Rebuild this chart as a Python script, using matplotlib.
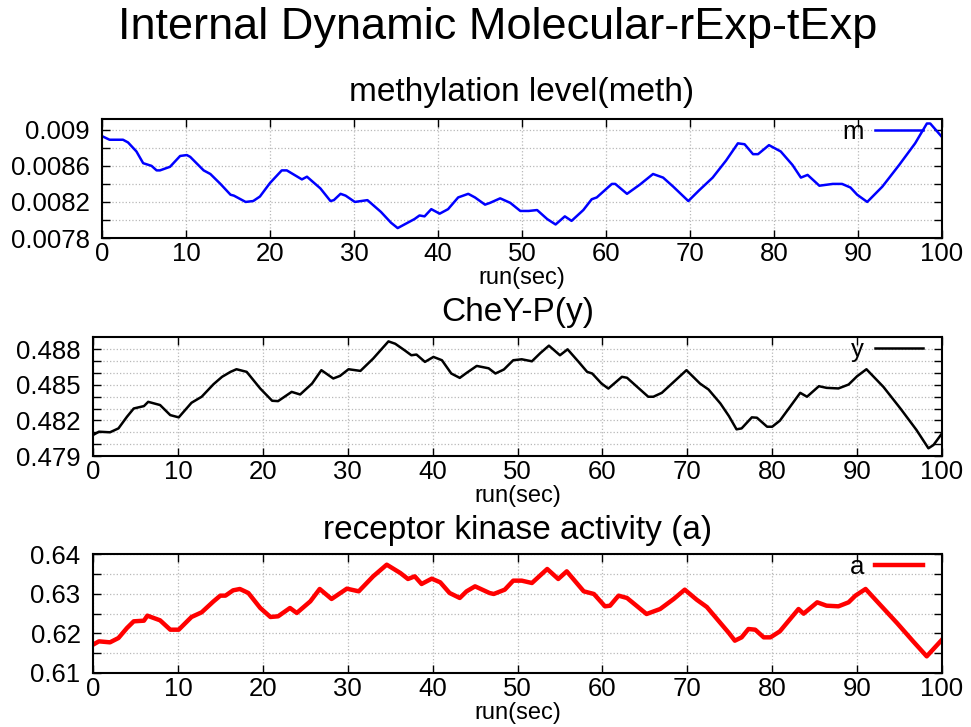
import matplotlib
matplotlib.use("Agg")
import matplotlib.pyplot as plt

plt.rcParams['font.family'] = ['Liberation Sans', 'DejaVu Sans']

# methylation level (m)
meth_t = [0, 0.9, 2.5, 3.1, 4.1, 4.9, 5.9, 6.5, 6.9, 8.1, 9.3, 10.1, 10.5, 12.1, 12.9, 14.1,
          15.3, 15.7, 17.1, 18.0, 18.8, 20.0, 21.4, 22.0, 23.8, 24.4, 26.0, 27.2, 27.6, 28.4,
          29.0, 30.1, 31.6, 33.2, 34.4, 35.2, 36.0, 37.2, 37.8, 38.4, 39.2, 40.2, 41.2, 42.4,
          43.6, 44.4, 45.6, 46.2, 47.4, 48.6, 49.8, 50.8, 51.8, 53.0, 54.0, 55.1, 55.9, 57.3,
          58.3, 58.9, 60.7, 61.1, 62.5, 64.0, 65.6, 66.8, 68.0, 69.8, 71.1, 72.7, 74.3, 75.7,
          76.5, 77.5, 78.1, 79.4, 80.8, 82.2, 83.2, 84.0, 85.4, 87.0, 88.1, 89.1, 89.9, 91.1,
          92.9, 94.9, 96.8, 98.2, 98.6, 100.0]
meth_v = [0.00893, 0.00889, 0.00889, 0.00886, 0.00876, 0.00863, 0.00860, 0.00855, 0.00855,
          0.00859, 0.00871, 0.00872, 0.00870, 0.00855, 0.00851, 0.00840, 0.00828, 0.00827,
          0.00820, 0.00821, 0.00826, 0.00841, 0.00855, 0.00855, 0.00845, 0.00848, 0.00835,
          0.00821, 0.00822, 0.00829, 0.00827, 0.00820, 0.00822, 0.00809, 0.00797, 0.00791,
          0.00795, 0.00801, 0.00805, 0.00804, 0.00812, 0.00807, 0.00812, 0.00825, 0.00829,
          0.00825, 0.00817, 0.00819, 0.00824, 0.00819, 0.00810, 0.00810, 0.00811, 0.00801,
          0.00795, 0.00804, 0.00799, 0.00811, 0.00823, 0.00825, 0.00840, 0.00840, 0.00829,
          0.00839, 0.00851, 0.00847, 0.00837, 0.00821, 0.00833, 0.00847, 0.00866, 0.00885,
          0.00884, 0.00873, 0.00873, 0.00883, 0.00876, 0.00861, 0.00847, 0.00850, 0.00838,
          0.00840, 0.00840, 0.00836, 0.00828, 0.00820, 0.00837, 0.00861, 0.00885, 0.00907,
          0.00907, 0.00892]

# CheY-P (y)
chey_t = [0, 0.7, 2.0, 3.0, 4.0, 4.8, 6.0, 6.5, 7.9, 9.1, 10.1, 11.6, 12.8, 14.2, 15.2, 16.2,
          16.9, 18.1, 19.7, 21.1, 21.8, 23.4, 24.4, 25.8, 26.9, 28.3, 29.1, 30.1, 31.5, 33.0,
          34.8, 35.6, 36.7, 37.5, 38.1, 39.1, 40.1, 41.1, 42.2, 43.2, 44.0, 45.2, 46.6, 47.4,
          48.4, 49.5, 50.5, 51.7, 52.7, 53.7, 55.0, 55.9, 57.2, 58.2, 58.8, 59.9, 60.7, 62.3,
          62.9, 64.1, 65.4, 66.0, 67.0, 68.4, 69.9, 71.5, 72.5, 73.9, 74.9, 75.8, 76.4, 77.6,
          78.2, 79.4, 80.0, 80.9, 82.1, 83.3, 84.1, 85.5, 86.4, 87.8, 89.0, 90.0, 91.1, 93.1,
          95.1, 97.0, 98.4, 99.0, 100.0]
chey_v = [0.48077, 0.48105, 0.48100, 0.48133, 0.48231, 0.48301, 0.48321, 0.48357, 0.48330,
          0.48245, 0.48226, 0.48349, 0.48400, 0.48506, 0.48568, 0.48610, 0.48632, 0.48610,
          0.48469, 0.48366, 0.48363, 0.48441, 0.48419, 0.48511, 0.48624, 0.48554, 0.48576,
          0.48632, 0.48618, 0.48722, 0.48867, 0.48847, 0.48792, 0.48750, 0.48756, 0.48694,
          0.48736, 0.48708, 0.48596, 0.48559, 0.48601, 0.48660, 0.48640, 0.48596, 0.48630,
          0.48708, 0.48716, 0.48699, 0.48769, 0.48831, 0.48750, 0.48800, 0.48694, 0.48610,
          0.48596, 0.48511, 0.48469, 0.48568, 0.48560, 0.48483, 0.48400, 0.48400, 0.48433,
          0.48525, 0.48624, 0.48511, 0.48461, 0.48343, 0.48237, 0.48125, 0.48133, 0.48226,
          0.48223, 0.48147, 0.48147, 0.48198, 0.48315, 0.48433, 0.48400, 0.48489, 0.48475,
          0.48470, 0.48503, 0.48573, 0.48632, 0.48483, 0.48301, 0.48119, 0.47965, 0.47993,
          0.48091]

# receptor kinase activity (a)
act_t = [0, 0.7, 2.0, 3.0, 4.0, 4.8, 6.0, 6.4, 7.9, 9.1, 10.1, 11.6, 12.8, 14.2, 15.0, 15.6,
         16.5, 17.3, 18.3, 19.7, 20.9, 21.8, 23.2, 24.0, 25.6, 26.7, 28.1, 29.9, 31.3, 33.0,
         34.6, 36.2, 37.1, 37.9, 38.7, 39.9, 40.9, 42.0, 43.2, 44.0, 45.0, 46.7, 47.2, 48.5,
         49.5, 50.5, 51.7, 53.5, 54.8, 55.8, 57.8, 59.0, 60.3, 60.9, 61.9, 62.9, 64.1, 65.2,
         66.8, 68.4, 69.7, 71.1, 72.3, 73.9, 74.9, 75.6, 76.4, 77.2, 78.0, 79.0, 79.8, 80.9,
         83.1, 83.7, 85.3, 86.4, 87.8, 89.0, 89.8, 91.0, 92.7, 94.7, 96.6, 98.2, 100.0]
act_v = [0.61714, 0.61798, 0.61773, 0.61882, 0.62134, 0.62303, 0.62319, 0.62445, 0.62328,
         0.62092, 0.62092, 0.62412, 0.62530, 0.62807, 0.62950, 0.62950, 0.63084, 0.63118,
         0.63017, 0.62639, 0.62412, 0.62429, 0.62639, 0.62513, 0.62807, 0.63118, 0.62866,
         0.63126, 0.63059, 0.63437, 0.63731, 0.63521, 0.63370, 0.63437, 0.63244, 0.63378,
         0.63286, 0.63017, 0.62891, 0.63059, 0.63185, 0.63017, 0.62992, 0.63101, 0.63328,
         0.63328, 0.63269, 0.63622, 0.63370, 0.63563, 0.63059, 0.62992, 0.62681, 0.62697,
         0.62950, 0.62891, 0.62681, 0.62487, 0.62613, 0.62866, 0.63101, 0.62849, 0.62664,
         0.62260, 0.62008, 0.61815, 0.61899, 0.62109, 0.62092, 0.61899, 0.61899, 0.62050,
         0.62613, 0.62496, 0.62782, 0.62697, 0.62681, 0.62782, 0.62950, 0.63118, 0.62723,
         0.62260, 0.61798, 0.61420, 0.61840]

x_ticks = [0, 10, 20, 30, 40, 50, 60, 70, 80, 90, 100]
meth_ticks = [0.0078, 0.0082, 0.0086, 0.009]
meth_minor = [0.0080, 0.0084, 0.0088]
chey_ticks = [0.479, 0.482, 0.485, 0.488]
chey_minor = [0.480, 0.481, 0.483, 0.484, 0.486, 0.487]
act_ticks = [0.61, 0.62, 0.63, 0.64]
act_minor = [0.615, 0.625, 0.635]

W, H = 971, 727
fig = plt.figure(figsize=(W / 100, H / 100), dpi=100)


def px_axes(left, top, right, bottom):
    return fig.add_axes([left / W, 1 - bottom / H, (right - left) / W, (bottom - top) / H])


panels = [
    dict(box=(102, 119, 942, 238), t=meth_t, v=meth_v, color='blue', lw=1.8, label='m',
         ylim=(0.0078, 0.00912), ticks=meth_ticks, minor=meth_minor,
         labels=['0.0078', '0.0082', '0.0086', '0.009'],
         title='methylation level(meth)', ty=92, xly=278),
    dict(box=(93, 337, 942, 456), t=chey_t, v=chey_v, color='black', lw=1.8, label='y',
         ylim=(0.479, 0.48904), ticks=chey_ticks, minor=chey_minor,
         labels=['0.479', '0.482', '0.485', '0.488'],
         title='CheY-P(y)', ty=312, xly=496),
    dict(box=(93, 554, 942, 673), t=act_t, v=act_v, color='red', lw=3.2, label='a',
         ylim=(0.61, 0.64), ticks=act_ticks, minor=act_minor,
         labels=['0.61', '0.62', '0.63', '0.64'],
         title='receptor kinase activity (a)', ty=530, xly=713),
]

for p in panels:
    ax = px_axes(*p['box'])
    ax.plot(p['t'], p['v'], color=p['color'], lw=p['lw'], label=p['label'])
    ax.set_xlim(0, 100)
    ax.set_ylim(*p['ylim'])
    ax.set_xticks(x_ticks)
    ax.set_xticklabels([str(x) for x in x_ticks])
    ax.set_yticks(p['ticks'])
    ax.set_yticklabels(p['labels'])
    ax.set_yticks(p['minor'], minor=True)
    ax.tick_params(axis='both', which='both', direction='in', top=True, right=True,
                   length=6, width=1, labelsize=18.5)
    ax.tick_params(axis='x', pad=3)
    ax.tick_params(axis='y', pad=9)
    ax.grid(True, which='both', color='#b8b8b8', linestyle=':', linewidth=0.9)
    for s in ax.spines.values():
        s.set_linewidth(1.5)
    ax.legend(loc='upper right', bbox_to_anchor=((923 - p['box'][0]) / (p['box'][2] - p['box'][0]), 0.99),
              frameon=False, markerfirst=False, fontsize=18.5, handlelength=1.85,
              handletextpad=0.45, borderpad=0, borderaxespad=0)
    cx = (p['box'][0] + p['box'][2]) / 2
    fig.text(cx / W, 1 - p['ty'] / H, p['title'], ha='center', va='center', fontsize=24)
    fig.text(cx / W, 1 - p['xly'] / H, 'run(sec)', ha='center', va='center', fontsize=17)

fig.text(498 / W, 1 - 27 / H, 'Internal Dynamic Molecular-rExp-tExp', ha='center', va='center',
         fontsize=32.5)

fig.savefig('out.png', dpi=100)
